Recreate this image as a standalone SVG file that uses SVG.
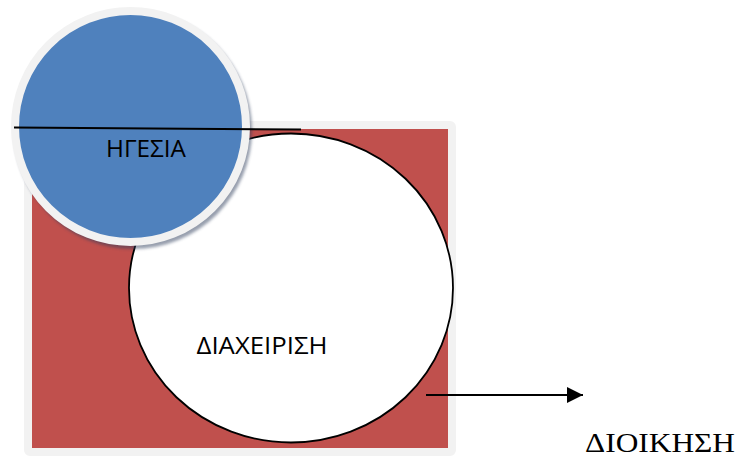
<svg xmlns="http://www.w3.org/2000/svg" width="739" height="457" viewBox="0 0 739 457">
<style>
.lbl{font-family:"Open Sans","Liberation Sans",sans-serif;fill:#000}
.serif{font-family:"Liberation Serif","Times New Roman",serif;fill:#000}
</style>
<defs>
<marker id="ah" markerWidth="16" markerHeight="16" refX="15" refY="7.5" orient="auto" markerUnits="userSpaceOnUse" viewBox="0 0 15 15">
<path d="M0,0 L15,7.5 L0,15 Z" fill="#000"/>
</marker>
<filter id="blur" x="-10%" y="-10%" width="120%" height="120%"><feGaussianBlur stdDeviation="1.5"/></filter>
</defs>
<rect width="739" height="457" fill="#fff"/>
<g id="dioikisi">
<rect x="28" y="125" width="424" height="327" rx="2" fill="#c0504d" stroke="#f2f2f2" stroke-width="8"/>
</g>
<g id="diaxeirisi">
<ellipse cx="291" cy="288" rx="162" ry="154.5" fill="#fff" stroke="#000" stroke-width="1.8"/>
<text class="lbl" x="262" y="354" font-size="23" text-anchor="middle" textLength="131" lengthAdjust="spacingAndGlyphs">ΔΙΑΧΕΙΡΙΣΗ</text>
</g>
<g id="igesia">
<circle cx="133" cy="130" r="119" fill="#2e3d5c" opacity="0.5" filter="url(#blur)"/>
<circle cx="130.5" cy="126.5" r="115.5" fill="#4f81bd" stroke="#f2f2f2" stroke-width="8"/>
<text class="lbl" x="146" y="157" font-size="23" text-anchor="middle" textLength="80" lengthAdjust="spacingAndGlyphs">ΗΓΕΣΙΑ</text>
</g>
<g id="connectors">
<line x1="426" y1="395" x2="583" y2="395" stroke="#000" stroke-width="1.8" marker-end="url(#ah)"/>
<line x1="14" y1="127.5" x2="301" y2="129.5" stroke="#000" stroke-width="2"/>
</g>
<g id="label-dioikisi">
<text class="serif" x="660" y="452" font-size="27" text-anchor="middle" textLength="150" lengthAdjust="spacingAndGlyphs">ΔΙΟΙΚΗΣΗ</text>
</g>
</svg>
